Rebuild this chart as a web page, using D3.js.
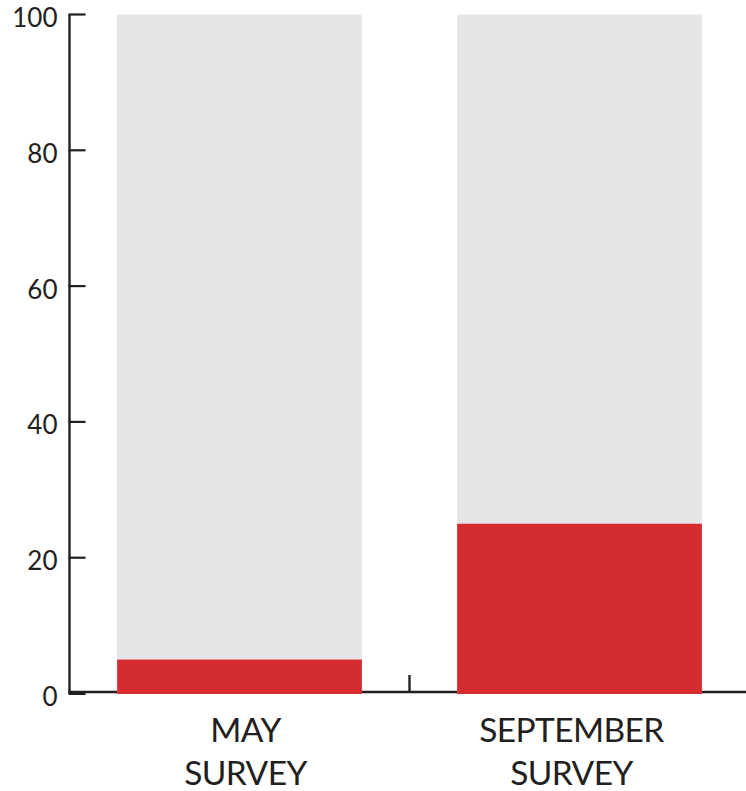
<!DOCTYPE html>
<html>
<head>
<meta charset="utf-8">
<script src="https://cdn.jsdelivr.net/npm/d3@7"></script>
<style>
  html, body { margin: 0; padding: 0; background: #fff; }
  svg { display: block; }
  text { font-family: Lato, "Open Sans", sans-serif; fill: #231f20; }
</style>
</head>
<body>
<svg id="chart" width="746" height="791"></svg>
<script>
const categories = [["MAY", "SURVEY"], ["SEPTEMBER", "SURVEY"]];
const categoryKeys = ["may", "september"];
const redValues = [5, 25];
const totalValues = [100, 100];
const yTicks = [0, 20, 40, 60, 80, 100];

const svg = d3.select("#chart");
const W = 746, H = 791;

const y = d3.scaleLinear().domain([0, 100]).range([693.5, 14.5]);
const x = d3.scaleBand().domain(categoryKeys).range([69.5, 749.5])
  .paddingInner(0.28).paddingOuter(0.14);

const ink = "#231f20";

// y axis
const yAxis = svg.append("g").attr("transform", `translate(${x.range()[0]},0)`);
yAxis.append("line")
  .attr("x1", 0).attr("x2", 0)
  .attr("y1", y(100)).attr("y2", y(0))
  .attr("stroke", ink).attr("stroke-width", 2.4);
yAxis.selectAll("line.tick").data(yTicks).join("line")
  .attr("class", "tick")
  .attr("x1", -1).attr("x2", 16)
  .attr("y1", d => y(d)).attr("y2", d => y(d))
  .attr("stroke", ink).attr("stroke-width", d => d === 0 ? 3 : 2.2);
yAxis.selectAll("text").data(yTicks).join("text")
  .attr("x", -12).attr("y", d => y(d) + 12.5)
  .attr("text-anchor", "end")
  .attr("font-size", 26)
  .text(d => d);

// x axis line
const x0 = y(0) - 1.5;
svg.append("line")
  .attr("x1", x.range()[0] - 1).attr("x2", W)
  .attr("y1", x0).attr("y2", x0)
  .attr("stroke", ink).attr("stroke-width", 2.6);
// boundary tick between categories
const mid = (x("may") + x.bandwidth() + x("september")) / 2;
svg.append("line")
  .attr("x1", mid).attr("x2", mid)
  .attr("y1", x0 - 17).attr("y2", x0)
  .attr("stroke", ink).attr("stroke-width", 2.4);

// bars
const bars = svg.append("g");
bars.selectAll("rect.total").data(categoryKeys).join("rect")
  .attr("class", "total")
  .attr("x", d => x(d)).attr("width", x.bandwidth())
  .attr("y", (d, i) => y(totalValues[i]))
  .attr("height", (d, i) => y(0) - y(totalValues[i]) + 0.5)
  .attr("fill", "#e5e6e8");
bars.selectAll("rect.red").data(categoryKeys).join("rect")
  .attr("class", "red")
  .attr("x", d => x(d)).attr("width", x.bandwidth())
  .attr("y", (d, i) => y(redValues[i]))
  .attr("height", (d, i) => y(0) - y(redValues[i]) + 0.5)
  .attr("fill", "#d52d2f");

// category labels
const labelShift = [6, -8];
const labels = svg.append("g");
categoryKeys.forEach((k, i) => {
  const cx = x(k) + x.bandwidth() / 2 + labelShift[i];
  const t = labels.append("text")
    .attr("text-anchor", "middle")
    .attr("font-size", 33.5)
    .attr("letter-spacing", -0.6)
    .attr("x", cx).attr("y", 742);
  categories[i].forEach((line, j) => {
    t.append("tspan").attr("x", cx).attr("dy", j === 0 ? 0 : 43).text(line);
  });
});
</script>
</body>
</html>
